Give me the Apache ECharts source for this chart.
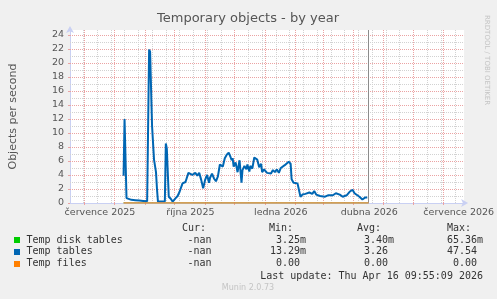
<!DOCTYPE html>
<html><head><meta charset="utf-8">
<script src="https://cdn.jsdelivr.net/npm/echarts@6/dist/echarts.min.js"></script>
<style>html,body{margin:0;padding:0;background:#f0f0f0}#c{width:497px;height:299px}</style>
</head><body><div id="c"></div>
<script>
// ---- data ----
const baseDate = '2025-07-01';            // day offsets are counted from this date
const nowDate = '2026-04-16T09:55:09Z';
const dayOffsets = [40,41,43,45,48,52,56,60,64,65,66,67,69,71,73,74,75,78,82,83,84,86,88,90,93,95,97,100,103,106,107,110,113,115,117,119,121,123,125,127,128,130,132,134,136,138,141,143,145,147,149,150,151,152,154,156,158,160,161,163,165,166,168,169,171,173,176,178,180,181,183,186,188,190,192,194,196,198,200,202,204,206,208,210,211,213,215,217,219,220,222,224,225,227,229,232,234,236,238,240,242,245,248,250,253,256,260,263,267,270,273,275,277,280,283,286,288,289];
const tempTables = [3.9,12.0,0.7,0.5,0.45,0.4,0.35,0.3,0.25,0.2,21.9,21.6,11.0,6.2,4.4,2.0,0.2,0.2,0.2,8.5,7.8,0.9,0.6,0.2,0.7,1.0,1.6,2.8,3.0,4.3,4.2,4.0,4.3,3.9,4.3,3.3,2.1,3.3,4.0,2.9,3.6,4.2,3.5,3.1,3.8,5.5,5.2,6.4,6.9,7.2,6.5,6.1,6.4,5.2,5.8,4.4,6.1,2.9,4.7,5.3,4.8,5.5,4.5,5.3,4.9,6.5,6.2,5.1,5.6,4.4,4.8,4.3,4.5,4.2,4.7,4.4,4.8,4.3,5.0,4.8,5.4,5.6,5.9,5.6,3.4,2.9,3.0,2.8,3.0,0.9,1.2,1.0,1.3,1.2,1.5,1.3,1.7,1.2,1.4,1.0,1.2,0.9,1.1,1.3,1.1,1.4,1.2,0.9,1.1,1.6,1.9,1.4,1.2,0.9,0.5,0.8,0.8];
const flatOffsets = [40, 289.4];
const tempDiskTables = [0.0034, 0.0034];
const tempFiles = [0, 0];
const yTicks = [0,2,4,6,8,10,12,14,16,18,20,22,24];
const yMinor = [1,3,5,7,9,11,13,15,17,19,21,23];
const xLabelDates = ['2025-07-01','2025-10-01','2026-01-01','2026-04-01','2026-07-01'];
const xLabels = ['července 2025','října 2025','ledna 2026','dubna 2026','července 2026'];
const monthStarts = ['2025-07-01','2025-08-01','2025-09-01','2025-10-01','2025-11-01','2025-12-01','2026-01-01','2026-02-01','2026-03-01','2026-04-01','2026-05-01','2026-06-01','2026-07-01'];
const legendRows = [
  {name:'Temp disk tables', color:'#00cc00', cur:'-nan', min:'3.25m', avg:'3.40m', max:'65.36m'},
  {name:'Temp tables',      color:'#0066b3', cur:'-nan', min:'13.29m', avg:'3.26 ', max:'47.54 '},
  {name:'Temp files',       color:'#ff8000', cur:'-nan', min:'0.00 ', avg:'0.00 ', max:'0.00 '}
];

// ---- build ----
const DAY = 86400000;
const base = Date.parse(baseDate + 'T00:00:00Z');
const ts = d => base + d * DAY;
const nowTs = Date.parse(nowDate);
const xMin = base - 14.5 * DAY;
const xMax = xMin + 401 * DAY;
const minorX = [];
for (let t = Date.parse('2025-06-30T00:00:00Z'); t < xMax; t += 14 * DAY) minorX.push(t);
const monthTs = monthStarts.map(s => Date.parse(s + 'T00:00:00Z'));
const labelTs = xLabelDates.map(s => Date.parse(s + 'T00:00:00Z') + 16 * DAY);

const MAJ = '#eba3a3', MIN = '#d2d2d2';
const dashStyle = c => ({color: c, width: 1, type: [1, 1]});

const gridMarks = [];
minorX.forEach(t => gridMarks.push({xAxis: t, lineStyle: dashStyle(MIN)}));
yMinor.forEach(v => gridMarks.push({yAxis: v, lineStyle: dashStyle(MIN)}));
monthTs.forEach(t => gridMarks.push({xAxis: t, lineStyle: dashStyle(MAJ)}));
yTicks.filter(v => v > 0).forEach(v => gridMarks.push({yAxis: v, lineStyle: dashStyle(MAJ)}));

const mono = '10px "DejaVu Sans Mono"';
const T = (x, y, text, font, fill, align, extra) => Object.assign({type:'text', x:x, y:y, style:{text:text, font:font, fill:fill, align:align||'left', verticalAlign:'middle', textAlign:align||'left', textVerticalAlign:'middle'}}, extra||{});
const graphics = [
  T(248, 19, 'Temporary objects - by year', '13px "DejaVu Sans"', '#555', 'center'),
  T(487, 15, 'RRDTOOL / TOBI OETIKER', '7px "DejaVu Sans"', '#c4c4c4', 'left', {rotation:-Math.PI/2}),
  T(248, 288, 'Munin 2.0.73', '8px "DejaVu Sans"', '#c4c4c4', 'center'),
  T(182, 228, 'Cur:', mono, '#333'),
  T(269, 228, 'Min:', mono, '#333'),
  T(357, 228, 'Avg:', mono, '#333'),
  T(447, 228, 'Max:', mono, '#333'),
  T(483, 276, 'Last update: Thu Apr 16 09:55:09 2026', mono, '#333', 'right')
];
legendRows.forEach((r, i) => {
  const y = 240 + i * 11.8;
  graphics.push({type:'rect', shape:{x:14, y:Math.round(y) - 3, width:6, height:6}, style:{fill:r.color}});
  graphics.push(T(26.5, y, r.name, mono, '#333'));
  graphics.push(T(211.5, y, r.cur, mono, '#333', 'right'));
  graphics.push(T(306, y, r.min, mono, '#333', 'right'));
  graphics.push(T(394, y, r.avg, mono, '#333', 'right'));
  graphics.push(T(483, y, r.max, mono, '#333', 'right'));
});

const chart = echarts.init(document.getElementById('c'), null, {renderer:'canvas'});
chart.setOption({
  animation: false,
  backgroundColor: '#f0f0f0',
  grid: {left:66, right:30, top:30, bottom:96, show:true, backgroundColor:'#ffffff', borderWidth:0},
  xAxis: {
    type:'value', min:xMin, max:xMax, scale:true,
    axisLine:{show:true, lineStyle:{color:'#c9d0f3', width:1}, symbol:['none','arrow'], symbolSize:[6,7], symbolOffset:[0,4]},
    axisTick:{show:true, customValues: monthTs, length:2, lineStyle:{color:MAJ}},
    axisLabel:{customValues: labelTs, fontFamily:'DejaVu Sans', fontSize:9.5, color:'#555', margin:5,
      formatter: v => { let bi = 0, bd = Infinity; labelTs.forEach((t,i)=>{const d=Math.abs(t-v); if(d<bd){bd=d;bi=i;}}); return xLabels[bi]; }},
    splitLine:{show:false}
  },
  yAxis: {
    type:'value', min:0, max:24.7, interval:2,
    name:'Objects per second', nameLocation:'middle', nameGap:51, nameRotate:90,
    nameTextStyle:{fontFamily:'DejaVu Sans', fontSize:11, color:'#555'},
    axisLine:{show:true, lineStyle:{color:'#c9d0f3', width:1}, symbol:['none','arrow'], symbolSize:[6,7], symbolOffset:[0,4]},
    axisTick:{show:true, length:2, lineStyle:{color:MAJ}},
    axisLabel:{fontFamily:'DejaVu Sans', fontSize:9.5, color:'#555', margin:6,
      formatter: v => (yTicks.indexOf(v) >= 0 ? String(v) : '')},
    splitLine:{show:false}
  },
  graphic: graphics,
  series: [
    {type:'line', z:1, data:[], silent:true, markLine:{silent:true, z:1, symbol:['none','none'], label:{show:false}, animation:false, data:gridMarks}},
    {name:'Temp disk tables', type:'line', z:3, showSymbol:false, data: flatOffsets.map((d,i)=>[ts(d), tempDiskTables[i]]), lineStyle:{color:'#00cc00', width:1}, itemStyle:{color:'#00cc00'}},
    {name:'Temp tables', type:'line', z:4, showSymbol:false, data: dayOffsets.map((d,i)=>[ts(d), tempTables[i]]), lineStyle:{color:'#0066b3', width:2}, itemStyle:{color:'#0066b3'},
      markLine:{silent:true, symbol:['none','none'], label:{show:false}, data:[{xAxis: nowTs, lineStyle:{color:'#8c8c8c', width:1, type:'solid'}}]}},
    {name:'Temp files', type:'line', z:5, showSymbol:false, data: flatOffsets.map((d,i)=>[ts(d), tempFiles[i]]), lineStyle:{color:'#f08a4a', width:1.5, opacity:1}, itemStyle:{color:'#ff8000'}}
  ]
});
</script></body></html>
